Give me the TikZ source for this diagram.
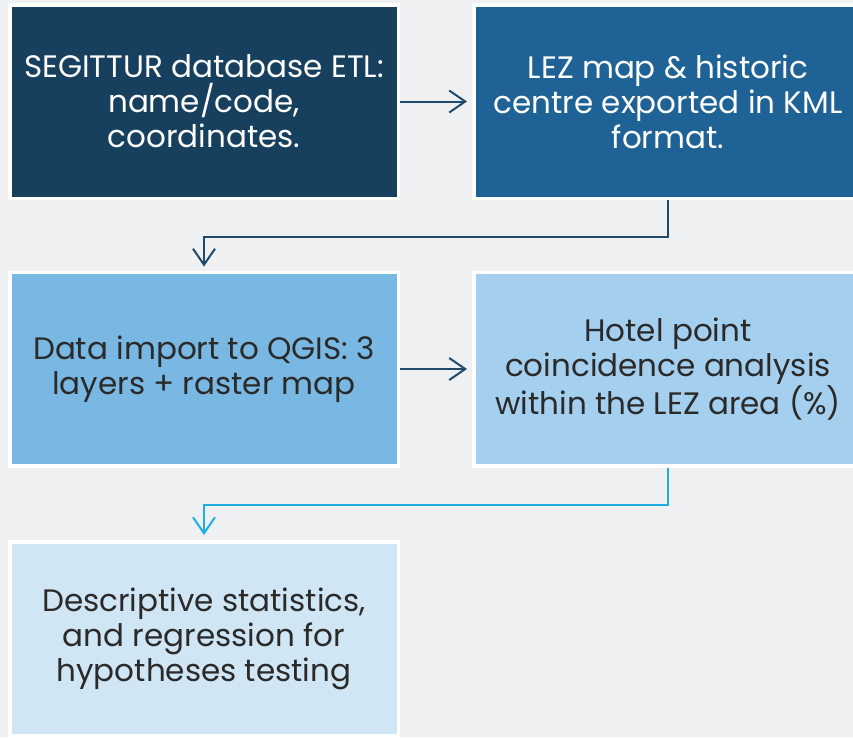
\documentclass[tikz,border=0pt]{standalone}
\usepackage{fontspec}
\setmainfont{Poppins}
\usetikzlibrary{arrows.meta}
\definecolor{bg}{HTML}{EFF0F2}
\definecolor{cA}{HTML}{17405F}
\definecolor{cB}{HTML}{1F6296}
\definecolor{cC}{HTML}{7AB8E4}
\definecolor{cD}{HTML}{A4CFEE}
\definecolor{cE}{HTML}{D1E6F4}
\definecolor{navy}{HTML}{1F4A6B}
\definecolor{cyan}{HTML}{1FAEE3}
\definecolor{txt}{HTML}{2A2A2A}
\tikzset{
  box/.style={draw=white, line width=3.5pt, minimum width=388.5pt, minimum height=193.5pt,
    inner sep=0pt, align=center, font=\fontsize{31}{35}\selectfont},
  conn/.style={line width=2pt, -{Straight Barb[length=16pt,width=22pt,line width=2pt]}},
}
\begin{document}
\begin{tikzpicture}[x=1pt,y=-1pt]
\useasboundingbox (0,0) rectangle (853,737);
\fill[bg] (0,0) rectangle (853,737);
\clip (0,0) rectangle (853,737);
\node[box, fill=cA, text=white] (b1) at (204,101.5) {SEGITTUR database ETL:\\name/code,\\coordinates.};
\node[box, fill=cB, text=white] (b2) at (668,101.5) {LEZ map \& historic\\centre exported in KML\\format.};
\node[box, fill=cC, text=txt] (b3) at (204,369) {Data import to QGIS: 3\\layers + raster map};
\node[box, fill=cD, text=txt] (b4) at (668,369) {Hotel point\\coincidence analysis\\within the LEZ area (\%)};
\node[box, fill=cE, text=txt] (b5) at (204,638.5) {Descriptive statistics,\\and regression for\\hypotheses testing};
\coordinate (m1) at (0,237);
\coordinate (m2) at (0,505);
\draw[conn, navy, shorten >=5pt] (b1.east) -- (b2.west);
\draw[conn, navy, shorten >=5pt] (b3.east) -- (b4.west);
\draw[conn, navy, shorten >=4pt] (b2.south) -- (b2.south |- m1) -| (b3.north);
\draw[conn, cyan, shorten >=5pt] (b4.south) -- (b4.south |- m2) -| (b5.north);
\end{tikzpicture}
\end{document}
